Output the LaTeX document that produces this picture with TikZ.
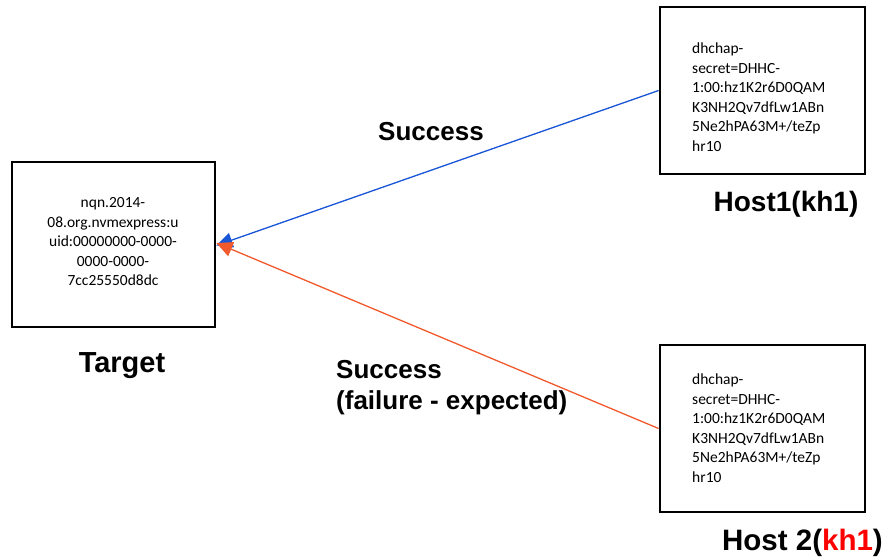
\documentclass[tikz,border=0pt]{standalone}
\usepackage{fontspec}
\setmainfont{Carlito}
\newfontfamily\labelfont{Liberation Sans}
\usetikzlibrary{arrows.meta}
\definecolor{linkblue}{RGB}{25,85,215}
\definecolor{linkorange}{RGB}{240,90,45}
\definecolor{keyred}{RGB}{255,0,0}
\begin{document}
\begin{tikzpicture}[x=1pt,y=-1pt,
  box/.style={draw=black,line width=2.8pt,fill=white,inner sep=0pt},
  boxtext/.style={font=\fontsize{15.5}{19.5}\selectfont,inner sep=0pt},
  biglabel/.style={font=\labelfont\bfseries\fontsize{26}{31}\selectfont,inner sep=0pt},
  hostlabel/.style={font=\labelfont\bfseries\fontsize{28}{32}\selectfont,inner sep=0pt},
  link/.style={line width=1.3pt,-{Triangle[length=16pt,width=15pt]}}]
\useasboundingbox (0,0) rectangle (884,557);

% target subsystem
\node[box,minimum width=203pt,minimum height=165pt] (target) at (113.5,244.5) {};
\node[boxtext,align=center] (ttext) at (113,242)
  {nqn.2014-\\08.org.nvmexpress:u\\uid:00000000-0000-\\0000-0000-\\7cc25550d8dc};
\node[biglabel,font=\labelfont\bfseries\fontsize{29}{33}\selectfont] (tlabel) at (122,366) {Target};

% host 1
\node[box,minimum width=205pt,minimum height=167pt] (h1) at (762.5,90.5) {};
\node[boxtext,align=left,anchor=west] (h1text) at (692,97)
  {dhchap-\\secret=DHHC-\\1:00:hz1K2r6D0QAM\\K3NH2Qv7dfLw1ABn\\5Ne2hPA63M+/teZp\\hr10};
\node[hostlabel] (h1label) at (786,204) {Host1(kh1)};

% host 2
\node[box,minimum width=205pt,minimum height=167pt] (h2) at (762.5,428.5) {};
\node[boxtext,align=left,anchor=west] (h2text) at (692,428)
  {dhchap-\\secret=DHHC-\\1:00:hz1K2r6D0QAM\\K3NH2Qv7dfLw1ABn\\5Ne2hPA63M+/teZp\\hr10};
\node[hostlabel,font=\labelfont\bfseries\fontsize{29.5}{33}\selectfont,anchor=east] (h2label) at (883,543)
  {Host 2(\textcolor{keyred}{kh1})};

% authentication links
\draw[link,draw=linkblue,fill=linkblue] (h1.west) -- ([yshift=-1pt]target.east);
\draw[link,draw=linkorange,fill=linkorange] (h2.west) -- ([yshift=1.5pt]target.east);

\node[biglabel] (ok1) at (431,132) {Success};
\node[biglabel,align=left,anchor=north west] (ok2) at (336,360)
  {Success\\(failure - expected)};
\end{tikzpicture}
\end{document}
